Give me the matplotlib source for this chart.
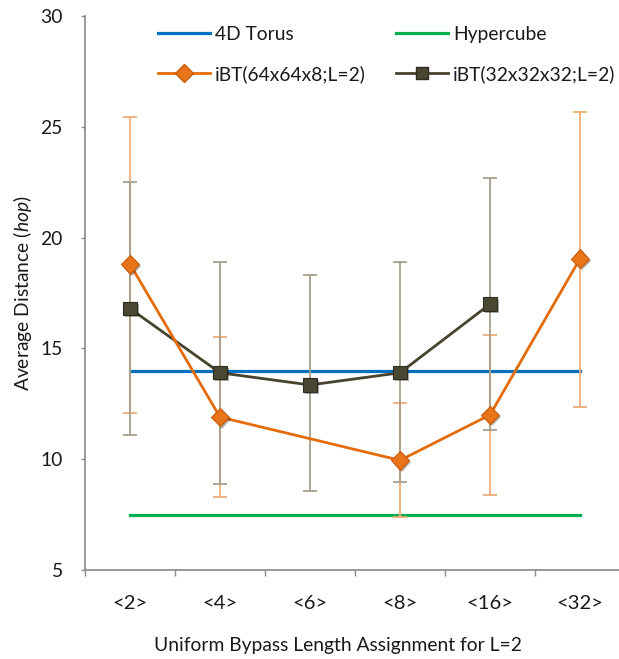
import numpy as np
import matplotlib
matplotlib.use("Agg")
import matplotlib.pyplot as plt
import matplotlib.patheffects as pe
from matplotlib.lines import Line2D

plt.rcParams['font.family'] = ['Lato', 'DejaVu Sans']
plt.rcParams['mathtext.fontset'] = 'custom'
plt.rcParams['mathtext.rm'] = 'Lato'
plt.rcParams['mathtext.it'] = 'Lato:italic'

categories = ['<2>', '<4>', '<6>', '<8>', '<16>', '<32>']
torus = [14.0, 14.0, 14.0, 14.0, 14.0, 14.0]
hypercube = [7.5, 7.5, 7.5, 7.5, 7.5, 7.5]
ibt64 = [18.8, 11.9, np.nan, 9.95, 12.0, 19.05]
ibt64_lo = [12.1, 8.3, np.nan, 7.4, 8.4, 12.35]
ibt64_hi = [25.45, 15.5, np.nan, 12.55, 15.6, 25.65]
ibt32 = [16.8, 13.9, 13.35, 13.9, 17.0, np.nan]
ibt32_lo = [11.1, 8.9, 8.55, 8.95, 11.3, np.nan]
ibt32_hi = [22.5, 18.9, 18.3, 18.9, 22.7, np.nan]

c_blue = '#0070C0'
c_green = '#00B050'
c_orange = '#E46C0A'
c_dark = '#47432E'
txt = '#1a1a1a'

W, H = 619, 659
fig = plt.figure(figsize=(W/100, H/100), dpi=100)
ax = fig.add_axes([85/W, 1-570/H, 540/W, 554/H])

x = np.arange(len(categories))

ax.plot(x, torus, color=c_blue, lw=2.3, zorder=2)
ax.plot(x, hypercube, color=c_green, lw=2.3, zorder=2)

def draw_err(vals, lo, hi, color, zorder):
    v = np.array(vals, float); l = np.array(lo, float); h = np.array(hi, float)
    m = ~np.isnan(v)
    ax.errorbar(x[m], v[m], yerr=[v[m]-l[m], h[m]-v[m]], fmt='none',
                ecolor=color, elinewidth=1.3, capsize=5, capthick=1.3, zorder=zorder)

draw_err(ibt64, ibt64_lo, ibt64_hi, '#F0AC78', 3)
draw_err(ibt32, ibt32_lo, ibt32_hi, '#A8A08A', 3)

shadow = [pe.SimplePatchShadow(offset=(1.5, -1.5), shadow_rgbFace='k', alpha=0.3), pe.Normal()]

a64 = np.array(ibt64, float); m64 = ~np.isnan(a64)
ax.plot(x[m64], a64[m64], color=c_orange, lw=2.0, zorder=5)
ax.plot(x[m64], a64[m64], ls='none', marker='D', ms=9.5,
        mfc='#E8751A', mec='#C85A08', mew=0.8, zorder=6, path_effects=shadow)
a32 = np.array(ibt32, float); m32 = ~np.isnan(a32)
ax.plot(x[m32], a32[m32], color=c_dark, lw=2.0, zorder=4)
ax.plot(x[m32], a32[m32], ls='none', marker='s', ms=9.5,
        mfc='#4A4733', mec='#2E2C20', mew=0.8, zorder=4.5, path_effects=shadow)

ax.set_xlim(-0.5, len(categories) - 0.5)
ax.set_ylim(5, 30)
ax.set_yticks([5, 10, 15, 20, 25, 30])
ax.set_xticks(x)
ax.set_xticklabels(categories)
ax.set_xticks(np.arange(len(categories) + 1) - 0.5, minor=True)
ax.tick_params(axis='x', which='major', length=0, pad=18, colors=txt)
ax.tick_params(axis='x', which='minor', length=4.3, width=1, color='#888888')
ax.tick_params(axis='y', length=3, width=1, pad=13, colors=txt)
ax.tick_params(axis='y', color='#888888')

for s in ['top', 'right']:
    ax.spines[s].set_visible(False)
for s in ['left', 'bottom']:
    ax.spines[s].set_color('#888888')
    ax.spines[s].set_linewidth(1.2)

xl = ax.set_xlabel('Uniform Bypass Length Assignment for L=2', color=txt)
yl = ax.set_ylabel(r'Average Distance ($\mathit{hop}$)', color=txt)

renderer = fig.canvas.get_renderer()

def fit(t, target, base=12):
    t.set_fontsize(base)
    w = t.get_window_extent(renderer).width
    fs = base * target / w
    t.set_fontsize(fs)
    return fs

fs_x = fit(xl, 367)
yl.set_fontsize(fs_x)
ax.tick_params(axis='x', which='major', labelsize=fs_x * 1.05)
ax.tick_params(axis='y', labelsize=fs_x)

ax.xaxis.set_label_coords((338-85)/540, -(645-570)/554)
xl.set_va('center')
ax.yaxis.set_label_coords((23-85)/540, 0.5)
yl.set_va('center')

# legend
handles = [
    Line2D([], [], color=c_blue, lw=2.3),
    Line2D([], [], color=c_orange, lw=2.0, marker='D', ms=9.5, mfc='#E8751A', mec='#C85A08'),
    Line2D([], [], color=c_green, lw=2.3),
    Line2D([], [], color=c_dark, lw=2.0, marker='s', ms=9, mfc='#4A4733', mec='#2E2C20'),
]
labels = ['4D Torus', 'iBT(64x64x8;L=2)', 'Hypercube', 'iBT(32x32x32;L=2)']

tt = fig.text(0, 0, 'iBT(64x64x8;L=2)', fontsize=12)
fs_leg = fit(tt, 150)
th = tt.get_window_extent(renderer).height
tt.remove()
fpx = fs_leg * 100 / 72
leg = fig.legend(handles, labels, ncol=2, frameon=False, fontsize=fs_leg,
                 loc='upper left', bbox_to_anchor=(158/W, 1 - (35 - th/2)/H),
                 handlelength=52/fpx, handletextpad=5/fpx, columnspacing=30/fpx,
                 labelspacing=(40 - th)/fpx, borderpad=0, borderaxespad=0)
for t in leg.get_texts():
    t.set_color(txt)

fig.savefig('out.png', dpi=100)
